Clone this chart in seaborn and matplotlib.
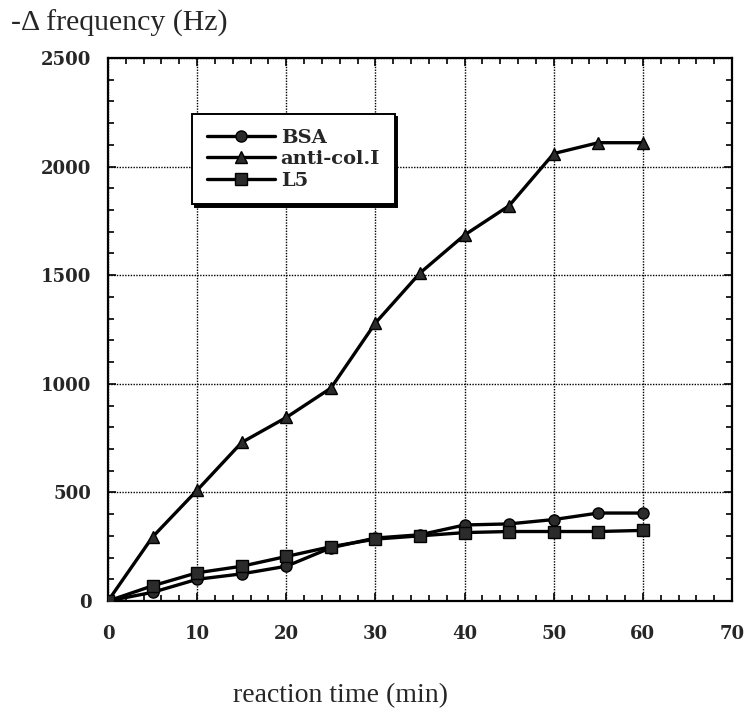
import seaborn as sns
import matplotlib.pyplot as plt
from matplotlib.ticker import MultipleLocator
import pandas as pd

# reaction time (min)
time = [0, 5, 10, 15, 20, 25, 30, 35, 40, 45, 50, 55, 60]
# -delta frequency (Hz)
bsa = [0, 40, 100, 125, 160, 245, 290, 305, 350, 355, 375, 405, 405]
anti = [0, 295, 510, 730, 845, 980, 1280, 1510, 1685, 1820, 2060, 2110, 2110]
l5 = [0, 70, 130, 160, 205, 250, 285, 300, 315, 320, 320, 320, 325]
names = ['BSA', 'anti-col.I', 'L5']

df = pd.concat([
    pd.DataFrame({'time': time, 'freq': vals, 'series': name})
    for name, vals in zip(names, [bsa, anti, l5])
])

sns.set_style('ticks')
plt.rcParams['font.family'] = ['DejaVu Serif']

fig = plt.figure(figsize=(7.51, 7.16), dpi=100)
ax = fig.add_axes([0.1438, 0.1606, 0.8309, 0.7584])

sns.lineplot(data=df, x='time', y='freq', hue='series', style='series',
             palette=['black'] * 3, markers={'BSA': 'o', 'anti-col.I': '^', 'L5': 's'},
             dashes=False, linewidth=2.4, markersize=8, markerfacecolor='#2b2b2b',
             markeredgecolor='black', markeredgewidth=1.0, ax=ax, zorder=3)

ax.set_xlim(0, 70)
ax.set_ylim(0, 2500)
ax.xaxis.set_major_locator(MultipleLocator(10))
ax.xaxis.set_minor_locator(MultipleLocator(2))
ax.yaxis.set_major_locator(MultipleLocator(500))
ax.yaxis.set_minor_locator(MultipleLocator(100))
ax.grid(True, which='major', color='black', linestyle=(0, (1, 1)), linewidth=1.0)
ax.tick_params(which='both', direction='in', top=True, right=True, width=1.2, color='black')
ax.tick_params(which='major', length=6)
ax.tick_params(which='minor', length=4)
ax.tick_params(axis='x', which='major', pad=17)
ax.tick_params(axis='y', which='major', pad=12)
for lab in ax.get_xticklabels() + ax.get_yticklabels():
    lab.set_fontweight('bold')
    lab.set_fontsize(13)
for sp in ax.spines.values():
    sp.set_linewidth(1.6)
    sp.set_color('black')

ax.set_xlabel('reaction time (min)', family='Liberation Serif', fontsize=20)
ax.xaxis.set_label_coords(0.372, -0.152)
ax.set_ylabel('-Δ frequency (Hz)', family='Liberation Serif', fontsize=21.5,
              rotation=0, ha='left', va='center')
ax.yaxis.set_label_coords(-0.155, 1.063)

leg = ax.legend(title=None, loc='upper left', bbox_to_anchor=(0.135, 0.897),
                borderaxespad=0, frameon=True, fancybox=False,
                shadow={'color': 'black', 'alpha': 1}, handlelength=3.5,
                handletextpad=0.3, labelspacing=0.18, borderpad=0.75,
                prop={'family': 'DejaVu Serif', 'weight': 'bold', 'size': 14})
leg.get_frame().set_edgecolor('black')
leg.get_frame().set_linewidth(1.4)
leg.get_frame().set_alpha(1)

fig.savefig('out.png', dpi=100)
